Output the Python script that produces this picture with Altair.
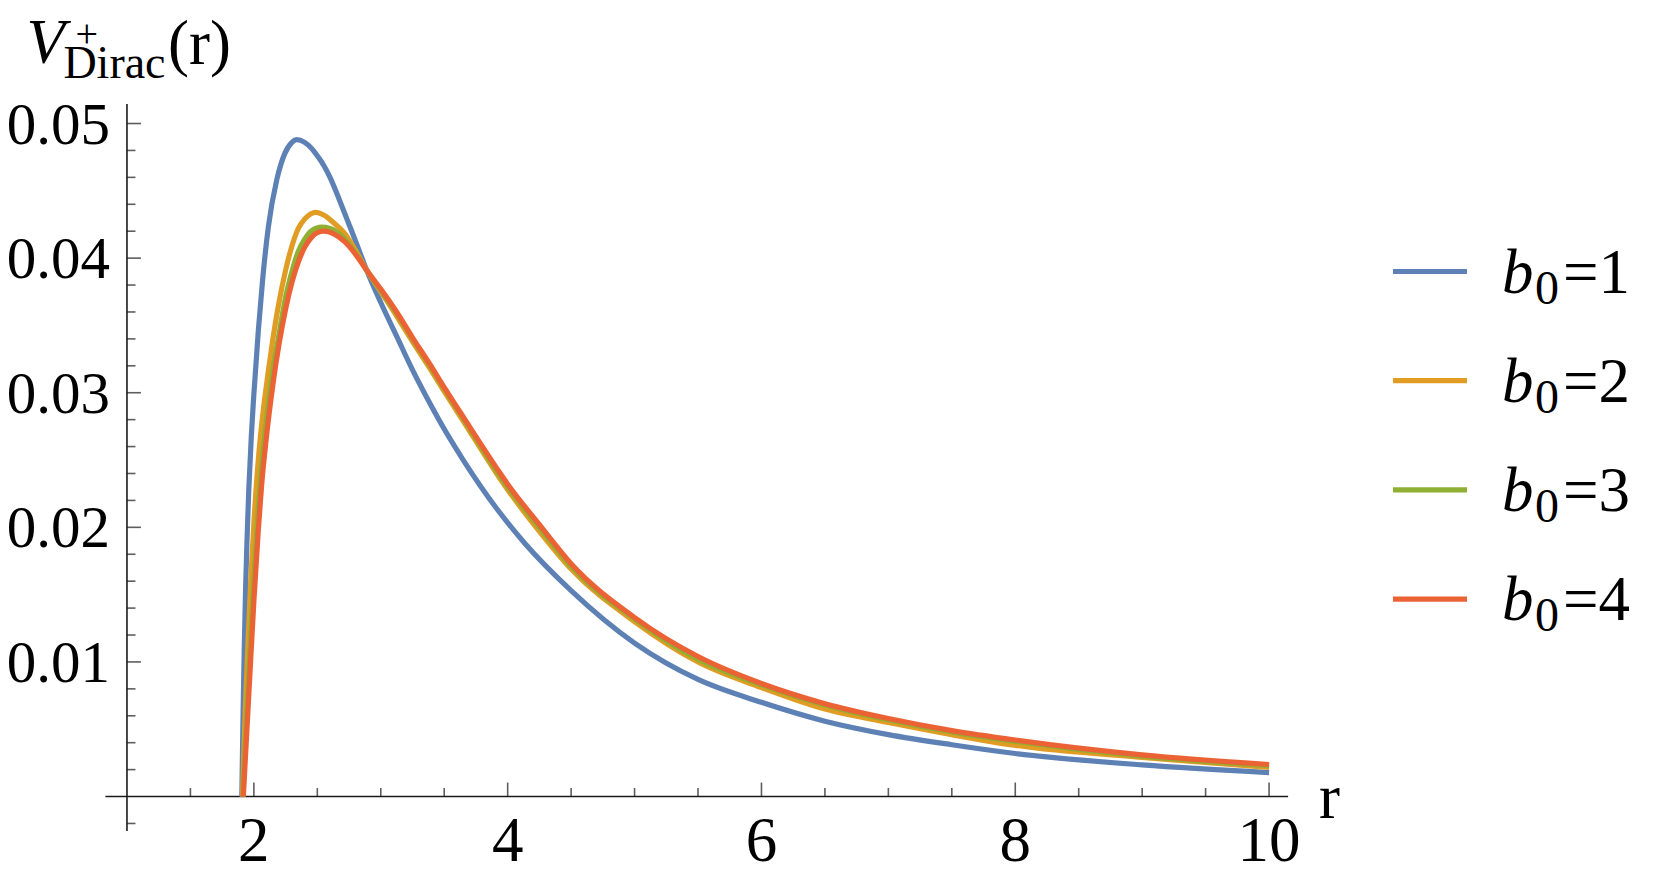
import altair as alt
import pandas as pd

FONT = "Liberation Serif"

# ---------------- data ----------------
SERIES = ["b0=1", "b0=2", "b0=3", "b0=4"]
B0_VALUES = ["1", "2", "3", "4"]
COLORS = ["#5E81B5", "#E19C24", "#8FB032", "#EB6235"]

R_B1 = [1.905, 1.915, 1.925, 1.935, 1.945, 1.96, 1.98, 2.0, 2.035, 2.07, 2.114, 2.18, 2.245,
        2.30, 2.337, 2.40, 2.45, 2.50, 2.55, 2.60, 2.65, 2.70, 2.75, 2.80, 2.889, 3.0, 3.125,
        3.25, 3.388, 3.5, 3.65, 3.913, 4.136, 4.5, 5.0, 5.5, 6.0, 6.5, 7.0, 7.5, 8.0, 9.0, 10.0]
V_B1 = [0, 0.0062, 0.0113, 0.0155, 0.0188, 0.0228, 0.0268, 0.0299, 0.0346, 0.0385, 0.0423,
        0.0458, 0.0478, 0.0486, 0.0488, 0.0486, 0.0482, 0.0476, 0.0469, 0.0460, 0.0449,
        0.0437, 0.0425, 0.0413, 0.0391, 0.0367, 0.0342, 0.0317, 0.0292, 0.0273, 0.0250,
        0.0214, 0.0188, 0.0153, 0.0114, 0.0087, 0.0070, 0.0056, 0.0046, 0.00385, 0.0032,
        0.00235, 0.00178]

R_B2 = [1.91, 1.93, 1.95, 1.975, 2.0, 2.035, 2.06, 2.114, 2.15, 2.192, 2.25, 2.30, 2.35, 2.40,
        2.45, 2.487, 2.55, 2.62, 2.718, 2.80, 2.889, 3.0, 3.125, 3.25, 3.388, 3.5, 3.65, 3.913,
        4.0, 4.25, 4.5, 5.0, 5.5, 6.0, 6.5, 7.0, 7.5, 8.0, 9.0, 10.0]
V_B2 = [0, 0.0058, 0.0106, 0.0160, 0.0203, 0.0250, 0.0275, 0.0316, 0.0340, 0.0364, 0.0391,
        0.0409, 0.0422, 0.0429, 0.0433, 0.0434, 0.0432, 0.0427, 0.0418, 0.0406, 0.0391,
        0.0375, 0.0357, 0.0338, 0.0318, 0.0301, 0.0279, 0.0240, 0.0228, 0.0197, 0.0169,
        0.0130, 0.0100, 0.0081, 0.0065, 0.0055, 0.0046, 0.0038, 0.0029, 0.00216]

R_B3 = [1.914, 1.93, 1.95, 1.975, 2.0, 2.035, 2.06, 2.114, 2.15, 2.192, 2.25, 2.30, 2.35, 2.40,
        2.45, 2.534, 2.60, 2.718, 2.80, 2.889, 3.0, 3.125, 3.25, 3.388, 3.5, 3.65, 3.913, 4.0,
        4.25, 4.5, 5.0, 5.5, 6.0, 6.5, 7.0, 7.5, 8.0, 9.0, 10.0]
V_B3 = [0, 0.0035, 0.0073, 0.0120, 0.0162, 0.0213, 0.0244, 0.0291, 0.0317, 0.0340, 0.0371,
        0.0390, 0.0405, 0.0414, 0.0420, 0.0423, 0.0422, 0.0414, 0.0404, 0.0391, 0.0376,
        0.0359, 0.0340, 0.0320, 0.0303, 0.0281, 0.0242, 0.0230, 0.0200, 0.0171, 0.0132,
        0.0102, 0.0083, 0.0068, 0.0057, 0.0048, 0.0041, 0.0030, 0.00230]

R_B4 = [1.917, 1.93, 1.95, 1.975, 2.0, 2.035, 2.06, 2.10, 2.15, 2.20, 2.25, 2.30, 2.35, 2.40,
        2.45, 2.50, 2.552, 2.63, 2.718, 2.80, 2.889, 3.0, 3.125, 3.25, 3.388, 3.5, 3.65, 3.913,
        4.0, 4.25, 4.5, 5.0, 5.5, 6.0, 6.5, 7.0, 7.5, 8.0, 9.0, 10.0]
V_B4 = [0, 0.0023, 0.0058, 0.0102, 0.0145, 0.0198, 0.0230, 0.0268, 0.0306, 0.0337, 0.0362,
        0.0382, 0.0397, 0.0408, 0.0415, 0.0419, 0.0420, 0.0418, 0.0412, 0.0403, 0.0391,
        0.0377, 0.0360, 0.0341, 0.0321, 0.0304, 0.0282, 0.0244, 0.0232, 0.0202, 0.0173,
        0.0133, 0.0104, 0.0084, 0.0069, 0.0058, 0.0049, 0.0042, 0.0031, 0.00238]

CURVES = [(R_B1, V_B1), (R_B2, V_B2), (R_B3, V_B3), (R_B4, V_B4)]

X_DOMAIN = [0.83, 10.15]
Y_DOMAIN = [-0.00256, 0.05145]
X_MAJOR = [2, 4, 6, 8, 10]
X_MAJOR_LABELS = ["2", "4", "6", "8", "10"]
X_MINOR = [1.5, 2.5, 3, 3.5, 4.5, 5, 5.5, 6.5, 7, 7.5, 8.5, 9, 9.5]
Y_MAJOR = [0.01, 0.02, 0.03, 0.04, 0.05]
Y_MAJOR_LABELS = ["0.01", "0.02", "0.03", "0.04", "0.05"]
Y_MINOR = [-0.002, 0.002, 0.004, 0.006, 0.008, 0.012, 0.014, 0.016, 0.018, 0.022, 0.024,
           0.026, 0.028, 0.032, 0.034, 0.036, 0.038, 0.042, 0.044, 0.046, 0.048]
X_ORIGIN, Y_ORIGIN = 1, 0

# ---------------- layout ----------------
W, H = 1182.7, 727
AXIS_COLOR = "#1a1a1a"
FS = 63

xs = alt.Scale(domain=X_DOMAIN, nice=False, zero=False)
ys = alt.Scale(domain=Y_DOMAIN, nice=False, zero=False)


def X(f="r"):
    return alt.X(f"{f}:Q", scale=xs, axis=None)


def Y(f="v"):
    return alt.Y(f"{f}:Q", scale=ys, axis=None)


layers = []

# axis lines
xaxis_df = pd.DataFrame({"r": [X_DOMAIN[0]], "r2": [X_DOMAIN[1]], "v": [Y_ORIGIN]})
layers.append(alt.Chart(xaxis_df).mark_rule(color=AXIS_COLOR, strokeWidth=1.6).encode(
    x=X("r"), x2="r2:Q", y=Y("v")))
yaxis_df = pd.DataFrame({"v": [Y_DOMAIN[0]], "v2": [Y_DOMAIN[1]], "r": [X_ORIGIN]})
layers.append(alt.Chart(yaxis_df).mark_rule(color=AXIS_COLOR, strokeWidth=1.6).encode(
    y=Y("v"), y2="v2:Q", x=X("r")))

# x ticks (inward)
xmaj = pd.DataFrame({"r": X_MAJOR, "v": [Y_ORIGIN] * len(X_MAJOR), "label": X_MAJOR_LABELS})
xmin = pd.DataFrame({"r": X_MINOR, "v": [Y_ORIGIN] * len(X_MINOR)})
layers.append(alt.Chart(xmaj).mark_tick(
    orient="vertical", size=14, thickness=1.6, yOffset=-7, color=AXIS_COLOR).encode(x=X(), y=Y()))
layers.append(alt.Chart(xmin).mark_tick(
    orient="vertical", size=8.5, thickness=1.6, yOffset=-4.25, color=AXIS_COLOR).encode(x=X(), y=Y()))

# y ticks (inward)
ymaj = pd.DataFrame({"v": Y_MAJOR, "r": [X_ORIGIN] * len(Y_MAJOR), "label": Y_MAJOR_LABELS})
ymin = pd.DataFrame({"v": Y_MINOR, "r": [X_ORIGIN] * len(Y_MINOR)})
layers.append(alt.Chart(ymaj).mark_tick(
    orient="horizontal", size=14, thickness=1.6, xOffset=7, color=AXIS_COLOR).encode(x=X(), y=Y()))
layers.append(alt.Chart(ymin).mark_tick(
    orient="horizontal", size=8.5, thickness=1.6, xOffset=4.25, color=AXIS_COLOR).encode(x=X(), y=Y()))

# tick labels
layers.append(alt.Chart(xmaj).mark_text(
    align="center", baseline="alphabetic", dy=64, font=FONT, fontSize=FS, color="black").encode(
    x=X(), y=Y(), text="label:N"))
layers.append(alt.Chart(ymaj).mark_text(
    align="right", baseline="alphabetic", dx=-17, dy=20, font=FONT, fontSize=59, color="black").encode(
    x=X(), y=Y(), text="label:N"))

# axis label r at the end of the x axis
rlab = pd.DataFrame({"r": [X_DOMAIN[1]], "v": [Y_ORIGIN], "label": ["r"]})
layers.append(alt.Chart(rlab).mark_text(
    align="left", baseline="alphabetic", dx=31, dy=21, font=FONT, fontSize=FS,
    color="black").encode(x=X(), y=Y(), text="label:N"))

# curves
for (rr, vv), col in zip(CURVES, COLORS):
    layers.append(alt.Chart(pd.DataFrame({"r": rr, "v": vv})).mark_line(
        color=col, strokeWidth=5.2, interpolate="monotone").encode(x=X(), y=Y()))

one = pd.DataFrame({"k": [0]})


def txt(t, x, y, size, italic=False):
    kw = dict(text=t, align="left", baseline="alphabetic", font=FONT, fontSize=size, color="black")
    if italic:
        kw["fontStyle"] = "italic"
    return alt.Chart(one).mark_text(**kw).encode(x=alt.value(x), y=alt.value(y))


# y axis label  V^+_Dirac(r)
layers.append(txt("V", -79, -41, FS, italic=True))
layers.append(txt("+", -30, -57, 40))
layers.append(txt("Dirac", -42, -26, 46))
layers.append(txt("(r)", 62.6, -40, FS))

# legend
LEG_Y0, LEG_STEP = 167.5, 109.2
for i, (b, col) in enumerate(zip(B0_VALUES, COLORS)):
    yy = LEG_Y0 + LEG_STEP * i
    layers.append(alt.Chart(one).mark_rule(color=col, strokeWidth=5.2).encode(
        x=alt.value(1287.6), x2=alt.value(1361.6), y=alt.value(yy)))
    layers.append(txt("b", 1396.6, yy + 21, FS, italic=True))
    layers.append(txt("0", 1429.6, yy + 32, 48))
    layers.append(txt("=" + b, 1457.6, yy + 21, FS))

chart = alt.layer(*layers).properties(
    width=W, height=H,
    autosize=alt.AutoSizeParams(type="none"),
    padding={"left": 97.4, "top": 96, "right": 355, "bottom": 46},
).configure(background="white").configure_view(strokeWidth=0)

chart.save("out.html", embed_options={"renderer": "svg", "actions": False})
